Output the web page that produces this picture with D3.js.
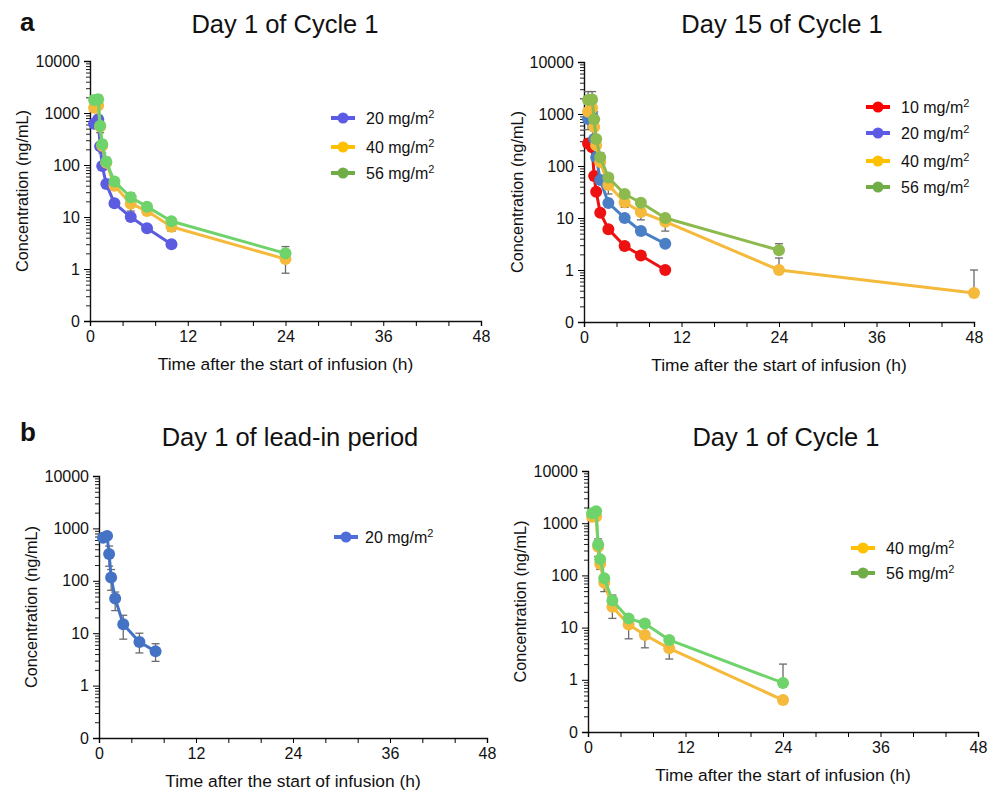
<!DOCTYPE html>
<html>
<head>
<meta charset="utf-8">
<script src="https://cdn.jsdelivr.net/npm/d3@7"></script>
<style>
  body { margin: 0; background: #fff; }
  svg { font-family: "Liberation Sans", Arial, sans-serif; }
</style>
</head>
<body>
<div id="container"></div>
<script>
// sampling times (h) after start of infusion
const hours = [0.5, 1, 1.25, 1.5, 2, 3, 5, 7, 10, 24, 48];

const yMajor = [0.1, 1, 10, 100, 1000, 10000];
const xTicks = [0, 4, 8, 12, 16, 20, 24, 28, 32, 36, 40, 44, 48];
const xLabels = [0, 12, 24, 36, 48];

// a: Day 1 of Cycle 1
const c1d1_20 = [620, 760, 230, 96, 43, 18.3, 10, 6.1, 3.0];
const c1d1_40 = [1260, 1400, 550, 235, 110, 40, 18, 13, 6.5, 1.55];
const c1d1_40_lo = [null, null, 420, 170, null, 33, 13, 11, 5.3, 0.83];
const c1d1_56 = [1780, 1830, 570, 250, 116, 48, 24, 15.8, 8.3, 2.0];
const c1d1_56_hi = [2150, 2200, 700, 300, 140, 52, 29, 18, 9.5, 2.7];

// a: Day 15 of Cycle 1
const c1d15_10 = [270, 230, 64, 32, 12.6, 6.1, 2.9, 1.9, 1.0];
const c1d15_20 = [800, 950, 330, 148, 54, 19.5, 10, 5.6, 3.2];
const c1d15_20_lo = [500, null, null, null, null, null, null, null, null];
const c1d15_20_hi = [null, 1150, null, null, null, null, null, null, null];
const c1d15_40 = [1100, 1300, 560, 250, 120, 43, 20, 13, 8.5, 1.0, 0.36];
const c1d15_40_lo = [null, null, null, null, null, 29, 16, 9.2, 5.6, null, null];
const c1d15_40_hi = [null, null, null, null, null, null, null, null, null, 1.7, 1.0];
const c1d15_56 = [1850, 1900, 790, 330, 147, 60, 29, 19.6, 10, 2.4];
const c1d15_56_hi = [2700, 2700, 1100, null, 180, 71, null, 21, null, 3.2];

// b: Day 1 of lead-in period
const lead_20 = [660, 720, 325, 116, 46, 14.8, 6.8, 4.5];
const lead_20_hi = [null, 825, 460, 164, 61, 22, 10, 6.3];
const lead_20_lo = [null, null, 190, 66, 27, 7.7, 4.2, 2.9];

// b: Day 1 of Cycle 1
const b_40 = [1330, 1350, 355, 165, 72, 25, 11.5, 7.2, 4.0, 0.41];
const b_40_lo = [null, null, 230, 130, 49, 15, 6.1, 4.1, 2.5, null];
const b_56 = [1550, 1700, 390, 205, 88, 33, 15, 12, 5.8, 0.87];
const b_56_hi = [null, null, 500, null, null, 42, null, null, null, 2.0];

const w = 1000, h = 790;

let svg = d3.select("#container")
    .append("svg")
    .attr("width", w)
    .attr("height", h);

function drawPanel(p) {
    const x = d3.scaleLinear().domain([0, 48]).range([p.x0, p.x1]);
    const y = d3.scaleLog().domain([0.1, 10000]).range([p.yBot, p.yTop]);
    const g = svg.append("g");

    // minor log ticks
    const minor = [];
    for (let e = -1; e < 4; e++) {
        for (let k = 2; k <= 9; k++) minor.push(k * Math.pow(10, e));
    }
    g.append("g")
        .attr("transform", "translate(" + p.x0 + ",0)")
        .call(d3.axisLeft(y).tickValues(minor).tickFormat("").tickSize(4))
        .call(a => a.select(".domain").remove())
        .call(a => a.selectAll("line").attr("stroke", "#222"));

    const yAxis = g.append("g")
        .attr("transform", "translate(" + p.x0 + ",0)")
        .call(d3.axisLeft(y).tickValues(yMajor).tickSize(6).tickPadding(4)
            .tickFormat(d => d < 1 ? "0" : d3.format("d")(d)));
    yAxis.attr("font-family", null);
    yAxis.selectAll("text").attr("font-size", 16).attr("fill", "#111");
    yAxis.select(".domain").attr("stroke-width", 1.4).attr("stroke", "#111");

    const xAxis = g.append("g")
        .attr("transform", "translate(0," + p.yBot + ")")
        .call(d3.axisBottom(x).tickValues(xTicks).tickSize(5).tickPadding(5)
            .tickFormat(d => xLabels.includes(d) ? d : ""));
    xAxis.attr("font-family", null);
    xAxis.selectAll("text").attr("font-size", 16).attr("fill", "#111");
    xAxis.select(".domain").attr("stroke-width", 1.4).attr("stroke", "#111");

    // titles and axis labels
    g.append("text")
        .attr("x", p.titleX).attr("y", p.titleY)
        .attr("text-anchor", "middle")
        .attr("font-size", 25.5)
        .attr("fill", "#111")
        .text(p.title);

    g.append("text")
        .attr("x", (p.x0 + p.x1) / 2).attr("y", p.yBot + 49)
        .attr("text-anchor", "middle")
        .attr("font-size", 17.4)
        .attr("fill", "#111")
        .text("Time after the start of infusion (h)");

    g.append("text")
        .attr("transform", "translate(" + p.yLabelX + "," + (p.yTop + p.yBot) / 2 + ") rotate(-90)")
        .attr("text-anchor", "middle")
        .attr("font-size", 16.3)
        .attr("fill", "#111")
        .text("Concentration (ng/mL)");

    // error bars first
    p.series.forEach(s => {
        ["hi", "lo"].forEach(key => {
            if (!s[key]) return;
            s[key].forEach((v, i) => {
                if (v == null) return;
                const cx = x(hours[i]);
                g.append("line")
                    .attr("x1", cx).attr("x2", cx)
                    .attr("y1", y(s.values[i])).attr("y2", y(v))
                    .attr("stroke", "#6b6b6b").attr("stroke-width", 1.3);
                g.append("line")
                    .attr("x1", cx - 4).attr("x2", cx + 4)
                    .attr("y1", y(v)).attr("y2", y(v))
                    .attr("stroke", "#6b6b6b").attr("stroke-width", 1.3);
            });
        });
    });

    const line = d3.line()
        .x((d, i) => x(hours[i]))
        .y(d => y(d));

    p.series.forEach(s => {
        g.append("path")
            .datum(s.values)
            .attr("d", line)
            .attr("fill", "none")
            .attr("stroke", s.color)
            .attr("stroke-width", 3)
            .attr("stroke-linejoin", "round");

        g.selectAll(null)
            .data(s.values)
            .enter()
            .append("circle")
            .attr("cx", (d, i) => x(hours[i]))
            .attr("cy", d => y(d))
            .attr("r", 6)
            .attr("fill", s.color);
    });

    // legend
    const leg = g.append("g");
    p.series.forEach((s, i) => {
        const ly = p.legY[i];
        leg.append("line")
            .attr("x1", p.legX - 12).attr("x2", p.legX + 12)
            .attr("y1", ly).attr("y2", ly)
            .attr("stroke", s.legColor).attr("stroke-width", 4);
        leg.append("circle")
            .attr("cx", p.legX).attr("cy", ly).attr("r", 5.5)
            .attr("fill", s.legColor);
        const t = leg.append("text")
            .attr("x", p.legX + p.legGap).attr("y", ly + 6)
            .attr("font-size", 16)
            .attr("fill", "#111");
        t.append("tspan").text(s.dose + " mg/m");
        t.append("tspan").attr("dy", -6).attr("font-size", 11).text("2");
    });
}

const PURPLE = "#5b5ce0", ORANGE = "#f5b93b", GREEN = "#6fd36b";

drawPanel({
    x0: 90, x1: 481, yTop: 61, yBot: 321,
    title: "Day 1 of Cycle 1", titleX: 285, titleY: 33, yLabelX: 28,
    legX: 343, legGap: 23, legY: [118, 147, 173],
    series: [
        {dose: 20, values: c1d1_20, color: PURPLE, legColor: "#5b5be6"},
        {dose: 40, values: c1d1_40, lo: c1d1_40_lo, color: ORANGE, legColor: "#ffc000"},
        {dose: 56, values: c1d1_56, hi: c1d1_56_hi, color: GREEN, legColor: "#70ad47"}
    ]
});

drawPanel({
    x0: 584, x1: 974, yTop: 62, yBot: 322,
    title: "Day 15 of Cycle 1", titleX: 782, titleY: 33, yLabelX: 523,
    legX: 878, legGap: 23, legY: [107, 133, 161, 187],
    series: [
        {dose: 10, values: c1d15_10, color: "#ee1111", legColor: "#ff0000"},
        {dose: 20, values: c1d15_20, lo: c1d15_20_lo, hi: c1d15_20_hi, color: "#4a7fc6", legColor: "#5b5be6"},
        {dose: 40, values: c1d15_40, lo: c1d15_40_lo, hi: c1d15_40_hi, color: ORANGE, legColor: "#ffc000"},
        {dose: 56, values: c1d15_56, hi: c1d15_56_hi, color: "#8dba4e", legColor: "#70ad47"}
    ]
});

drawPanel({
    x0: 99, x1: 487, yTop: 476, yBot: 738,
    title: "Day 1 of lead-in period", titleX: 290, titleY: 446, yLabelX: 37,
    legX: 346, legGap: 19, legY: [537],
    series: [
        {dose: 20, values: lead_20, hi: lead_20_hi, lo: lead_20_lo, color: "#4472c4", legColor: "#4f6fd8"}
    ]
});

drawPanel({
    x0: 588, x1: 978, yTop: 471, yBot: 732,
    title: "Day 1 of Cycle 1", titleX: 786, titleY: 446, yLabelX: 526,
    legX: 863, legGap: 23, legY: [548, 573],
    series: [
        {dose: 40, values: b_40, lo: b_40_lo, color: ORANGE, legColor: "#ffc000"},
        {dose: 56, values: b_56, hi: b_56_hi, color: GREEN, legColor: "#70ad47"}
    ]
});

// panel letters
svg.append("text").attr("x", 20).attr("y", 31)
    .attr("font-size", 26).attr("font-weight", "bold").attr("fill", "#111").text("a");
svg.append("text").attr("x", 20).attr("y", 441)
    .attr("font-size", 26).attr("font-weight", "bold").attr("fill", "#111").text("b");
</script>
</body>
</html>
